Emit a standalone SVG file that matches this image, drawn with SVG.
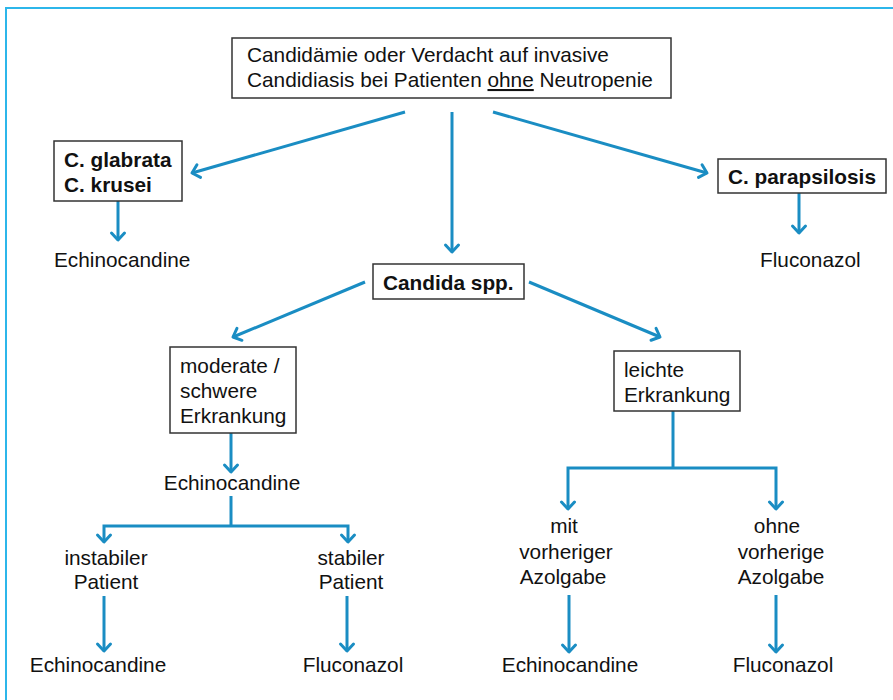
<svg xmlns="http://www.w3.org/2000/svg" width="893" height="700" viewBox="0 0 893 700">
<defs>
<style>
.t{font-family:"Liberation Sans",Arial,sans-serif;font-size:20.8px;fill:#111}
.b{font-weight:bold}
.m{text-anchor:middle}
.box{fill:#fff;stroke:#333;stroke-width:1.5}
.c{fill:none;stroke:#1a8dc3;stroke-width:3}
.a{marker-end:url(#ah)}
</style>
<marker id="ah" markerUnits="userSpaceOnUse" markerWidth="20" markerHeight="20" viewBox="-10 -10 20 20" refX="0" refY="0" orient="auto">
<path d="M-7,-6.5 L0,0 L-7,6.5" fill="none" stroke="#1a8dc3" stroke-width="3" stroke-linejoin="round" stroke-linecap="round"/>
</marker>
</defs>
<rect width="893" height="700" fill="#fff"/>
<path d="M6,700 V8 H893" fill="none" stroke="#2cb6ea" stroke-width="2"/>
<g id="connectors">
<line class="c a" x1="405" y1="112" x2="192" y2="173"/>
<line class="c a" x1="452" y1="112" x2="452" y2="252"/>
<line class="c a" x1="493" y1="112" x2="707" y2="173"/>
<line class="c a" x1="118" y1="201" x2="118" y2="240"/>
<line class="c a" x1="799" y1="193" x2="799" y2="233"/>
<line class="c a" x1="365" y1="282" x2="233" y2="337"/>
<line class="c a" x1="529" y1="282" x2="660" y2="337"/>
<line class="c a" x1="231" y1="433" x2="231" y2="472"/>
<polyline class="c" points="231,496 231,526"/>
<polyline class="c a" points="231,526 104,526 104,542"/>
<polyline class="c a" points="231,526 348,526 348,542"/>
<line class="c a" x1="104" y1="596" x2="104" y2="651"/>
<line class="c a" x1="347" y1="596" x2="347" y2="651"/>
<polyline class="c" points="673,411 673,468"/>
<polyline class="c a" points="673,468 568,468 568,509"/>
<polyline class="c a" points="673,468 776,468 776,509"/>
<line class="c a" x1="569" y1="595" x2="569" y2="652"/>
<line class="c a" x1="776" y1="595" x2="776" y2="652"/>
</g>
<g id="root">
<rect class="box" x="232" y="38" width="439" height="60"/>
<text class="t" x="247" y="62">Candidämie oder Verdacht auf invasive</text>
<text class="t" x="247" y="87">Candidiasis bei Patienten <tspan text-decoration="underline">ohne</tspan> Neutropenie</text>
</g>
<g id="glabrata">
<rect class="box" x="54" y="141" width="128" height="60"/>
<text class="t b" x="64" y="167">C. glabrata</text>
<text class="t b" x="64" y="192">C. krusei</text>
</g>
<g id="echino1"><text class="t" x="54" y="267">Echinocandine</text></g>
<g id="parapsilosis">
<rect class="box" x="718" y="159" width="168" height="34"/>
<text class="t b" x="728" y="184">C. parapsilosis</text>
</g>
<g id="fluco1"><text class="t" x="760" y="267">Fluconazol</text></g>
<g id="candida">
<rect class="box" x="373" y="264" width="151" height="35"/>
<text class="t b" x="383" y="290">Candida spp.</text>
</g>
<g id="moderate">
<rect class="box" x="170" y="347" width="126" height="86"/>
<text class="t" x="180" y="373">moderate /</text>
<text class="t" x="180" y="398">schwere</text>
<text class="t" x="180" y="423">Erkrankung</text>
</g>
<g id="echino2"><text class="t m" x="232" y="490">Echinocandine</text></g>
<g id="instabil">
<text class="t m" x="106" y="565">instabiler</text>
<text class="t m" x="106" y="589">Patient</text>
</g>
<g id="stabil">
<text class="t m" x="351" y="565">stabiler</text>
<text class="t m" x="351" y="589">Patient</text>
</g>
<g id="echino3"><text class="t m" x="98" y="672">Echinocandine</text></g>
<g id="fluco2"><text class="t m" x="353" y="672">Fluconazol</text></g>
<g id="leichte">
<rect class="box" x="614" y="351" width="126" height="60"/>
<text class="t" x="624" y="377">leichte</text>
<text class="t" x="624" y="402">Erkrankung</text>
</g>
<g id="mit">
<text class="t m" x="564" y="533">mit</text>
<text class="t m" x="566" y="559">vorheriger</text>
<text class="t m" x="563" y="584">Azolgabe</text>
</g>
<g id="ohne">
<text class="t m" x="777" y="533">ohne</text>
<text class="t m" x="781" y="559">vorherige</text>
<text class="t m" x="781" y="584">Azolgabe</text>
</g>
<g id="echino4"><text class="t m" x="570" y="672">Echinocandine</text></g>
<g id="fluco3"><text class="t m" x="783" y="672">Fluconazol</text></g>
</svg>
